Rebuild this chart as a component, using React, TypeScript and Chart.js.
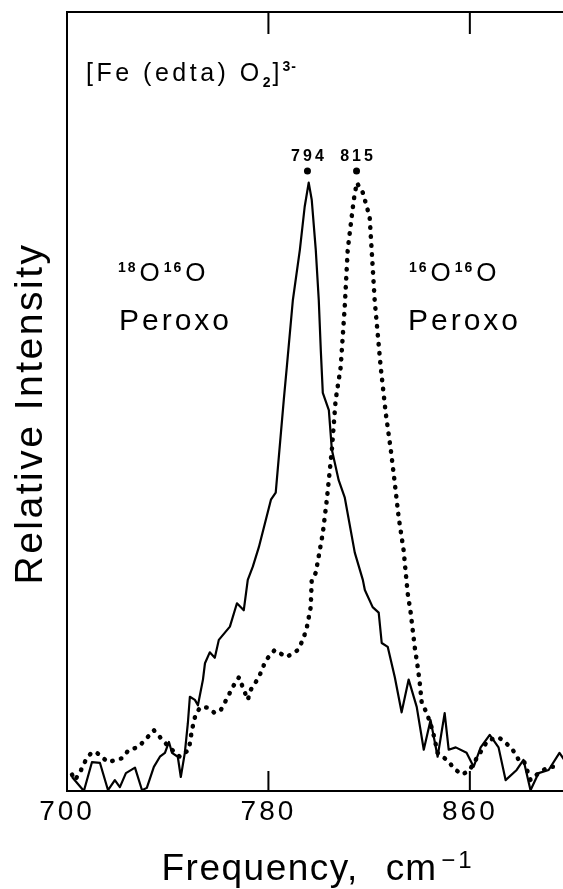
import React, { useEffect, useRef } from 'react';
import { Chart, registerables } from 'chart.js';

Chart.register(...registerables);

// 18O16O peroxo (solid line)
const solidFreq = [702.0, 706.7, 709.9, 713.1, 716.3, 719.0, 721.0, 723.4, 727.0, 729.8, 731.7, 734.5, 736.9, 738.9, 740.5, 741.7, 744.0, 745.2, 746.8, 748.0, 748.8, 750.8, 752.0, 754.0, 754.8, 756.7, 758.7, 760.3, 764.7, 767.5, 770.2, 771.8, 773.8, 776.2, 781.0, 782.9, 786.1, 787.3, 789.7, 792.5, 794.4, 796.0, 797.2, 798.8, 800.0, 800.8, 801.6, 804.0, 805.2, 807.9, 810.3, 814.3, 817.5, 818.3, 821.4, 823.8, 825.0, 827.4, 830.2, 832.9, 835.7, 838.9, 841.7, 844.4, 847.2, 850.0, 851.6, 854.4, 858.7, 861.5, 864.3, 867.9, 871.4, 874.2, 878.6, 881.3, 884.1, 887.3, 891.3, 895.6, 897.5];
const solidInt = [1.8, 0.0, 3.7, 3.6, 0.1, 1.4, 0.5, 2.3, 3.0, 0.1, 0.4, 3.1, 4.4, 4.9, 6.3, 4.9, 4.4, 1.8, 4.9, 8.7, 12.1, 11.7, 11.0, 14.3, 16.4, 17.8, 17.1, 19.4, 21.1, 24.1, 23.2, 27.1, 28.8, 31.3, 37.4, 38.3, 50.2, 54.4, 63.0, 69.5, 75.0, 78.1, 75.9, 69.5, 63.0, 56.6, 51.1, 48.9, 43.8, 39.9, 37.7, 30.6, 27.1, 25.8, 23.6, 22.9, 19.0, 18.5, 14.6, 10.1, 14.3, 10.8, 5.3, 9.1, 4.4, 10.0, 5.3, 5.6, 4.9, 3.1, 5.6, 7.2, 5.6, 1.4, 2.7, 4.0, 0.1, 2.3, 2.7, 4.9, 4.0];

// 16O16O peroxo (dotted line)
const dottedFreq = [702.0, 703.2, 705.6, 707.5, 709.9, 711.9, 716.3, 721.8, 724.6, 728.2, 731.7, 734.5, 738.9, 741.7, 744.8, 748.4, 749.6, 751.2, 753.2, 756.0, 758.7, 761.1, 763.9, 765.9, 768.3, 770.2, 771.8, 773.0, 776.2, 779.0, 782.5, 784.5, 787.3, 791.7, 793.7, 795.2, 796.8, 797.2, 798.8, 801.6, 803.2, 805.2, 806.7, 808.7, 810.3, 811.5, 813.9, 815.1, 817.5, 820.2, 821.4, 822.2, 824.6, 826.6, 828.6, 830.2, 831.7, 833.7, 835.3, 836.5, 838.1, 839.3, 840.1, 840.9, 842.9, 845.2, 847.2, 850.8, 854.4, 857.1, 859.9, 863.1, 867.1, 871.4, 874.2, 877.0, 879.4, 881.3, 884.1, 887.3, 891.3, 895.6];
const dottedInt = [2.1, 1.4, 2.7, 4.0, 5.0, 4.9, 3.7, 4.2, 5.3, 5.6, 6.8, 7.8, 6.2, 5.3, 4.4, 5.3, 7.8, 10.0, 10.8, 10.7, 10.0, 10.4, 12.1, 13.4, 14.6, 13.0, 11.7, 13.0, 14.6, 16.8, 18.1, 17.7, 17.2, 18.1, 19.4, 20.9, 23.6, 27.1, 28.0, 33.1, 37.4, 43.8, 50.2, 54.4, 62.1, 69.5, 75.9, 78.1, 76.8, 73.7, 67.3, 63.0, 54.4, 48.5, 43.8, 39.5, 35.2, 30.9, 25.4, 22.9, 18.5, 15.9, 13.9, 11.3, 10.0, 7.8, 4.9, 4.0, 2.7, 2.1, 2.7, 4.4, 6.5, 6.9, 6.2, 5.3, 4.0, 4.0, 1.4, 2.3, 3.1, 3.1];

const xTicks = [700, 780, 860];
const xTickLabels = ['700', '780', '860'];
const peakFreqs = [795.5, 815.0];
const peakLabels = ['794', '815'];

const FONT = "'Liberation Sans', Arial, Helvetica, sans-serif";

const overlay = {
  id: 'overlay',
  beforeDraw(chart: any) {
    chart.ctx.letterSpacing = '3px';
  },
  afterDraw(chart: any) {
    const { ctx, chartArea: a, scales } = chart;
    const x = scales.x;
    const y = scales.y;
    ctx.save();
    ctx.strokeStyle = '#000';
    ctx.fillStyle = '#000';
    ctx.lineWidth = 2;
    ctx.lineCap = 'butt';
    // top frame
    ctx.beginPath();
    ctx.moveTo(a.left, a.top);
    ctx.lineTo(a.right, a.top);
    ctx.stroke();
    // inward tick marks at bottom and top
    for (const v of xTicks) {
      if (v <= x.min) continue;
      const px = x.getPixelForValue(v);
      ctx.beginPath();
      ctx.moveTo(px, a.bottom);
      ctx.lineTo(px, a.bottom - 20);
      ctx.moveTo(px, a.top);
      ctx.lineTo(px, a.top + 22);
      ctx.stroke();
    }
    // peak markers
    ctx.textAlign = 'center';
    ctx.textBaseline = 'alphabetic';
    ctx.letterSpacing = '3px';
    ctx.font = `bold 16px ${FONT}`;
    peakFreqs.forEach((f, i) => {
      const px = x.getPixelForValue(f);
      const pd = y.getPixelForValue(79.6);
      ctx.beginPath();
      ctx.arc(px, pd, 3.5, 0, Math.PI * 2);
      ctx.fill();
      ctx.fillText(peakLabels[i], px + 1.5, pd - 10);
    });

    // helper for runs of text
    const run = (parts: { t: string; f: string; dy?: number; ls?: number; gap?: number }[], sx: number, by: number) => {
      let cx = sx;
      ctx.textAlign = 'left';
      for (const p of parts) {
        ctx.font = p.f;
        ctx.letterSpacing = `${p.ls ?? 0}px`;
        ctx.fillText(p.t, cx, by + (p.dy ?? 0));
        cx += ctx.measureText(p.t).width + (p.gap ?? 0);
      }
      return cx;
    };

    // title
    run([
      { t: '[Fe (edta) O', f: `25px ${FONT}`, ls: 3.5 },
      { t: '2', f: `bold 14px ${FONT}`, dy: 6, ls: 1, gap: 1 },
      { t: ']', f: `25px ${FONT}`, ls: 3 },
      { t: '3-', f: `bold 14px ${FONT}`, dy: -10, ls: 1 },
    ], a.left + 19, 81);

    // isotope labels
    const iso = (a1: string, a2: string, sx: number) =>
      run([
        { t: a1, f: `bold 14px ${FONT}`, dy: -9, ls: 2, gap: 2 },
        { t: 'O', f: `26px ${FONT}`, gap: 4 },
        { t: a2, f: `bold 14px ${FONT}`, dy: -9, ls: 2, gap: 2 },
        { t: 'O', f: `26px ${FONT}` },
      ], sx, 281);
    iso('18', '16', 118);
    iso('16', '16', 409);
    ctx.font = `30px ${FONT}`;
    ctx.letterSpacing = '3px';
    ctx.textAlign = 'left';
    ctx.fillText('Peroxo', 119, 330);
    ctx.fillText('Peroxo', 408, 330);

    // y axis title
    ctx.save();
    ctx.font = `39px ${FONT}`;
    ctx.letterSpacing = '2.5px';
    ctx.textAlign = 'center';
    ctx.textBaseline = 'alphabetic';
    ctx.translate(42, (a.top + a.bottom) / 2 + 12);
    ctx.rotate(-Math.PI / 2);
    ctx.fillText('Relative Intensity', 0, 0);
    ctx.restore();

    // x axis title
    const partsX = [
      { t: 'Frequency,', f: `37px ${FONT}`, ls: 1.5, gap: 27 },
      { t: 'cm', f: `37px ${FONT}`, ls: 1, gap: 4 },
      { t: '−1', f: `24px ${FONT}`, dy: -12, ls: 3 },
    ];
    let total = 0;
    for (const p of partsX) {
      ctx.font = p.f;
      ctx.letterSpacing = `${p.ls}px`;
      total += ctx.measureText(p.t).width + (p.gap ?? 0);
    }
    run(partsX, (a.left + a.right) / 2 + 3 - total / 2, 880);
    ctx.restore();
    ctx.letterSpacing = '0px';
  },
};

export default function App() {
  const ref = useRef<HTMLCanvasElement>(null);
  useEffect(() => {
    document.body.style.margin = '0';
    const canvas = ref.current;
    if (!canvas) return;
    const chart = new Chart(canvas, {
      type: 'scatter',
      data: {
        datasets: [
          {
            data: solidFreq.map((f, i) => ({ x: f, y: solidInt[i] })),
            showLine: true,
            borderColor: '#000',
            backgroundColor: '#000',
            borderWidth: 2.2,
            pointRadius: 0,
            tension: 0,
            borderJoinStyle: 'round',
          },
          {
            data: dottedFreq.map((f, i) => ({ x: f, y: dottedInt[i] })),
            showLine: true,
            borderColor: '#000',
            backgroundColor: '#000',
            borderWidth: 4.5,
            borderDash: [0.5, 8.5],
            borderCapStyle: 'round',
            pointRadius: 0,
            tension: 0,
          },
        ],
      },
      options: {
        animation: false,
        responsive: false,
        maintainAspectRatio: false,
        events: [],
        layout: { padding: { top: 12, left: 0, right: 0, bottom: 0 } },
        plugins: { legend: { display: false }, tooltip: { enabled: false }, title: { display: false } },
        scales: {
          x: {
            type: 'linear',
            min: 700,
            max: 897,
            afterBuildTicks: (s: any) => {
              s.ticks = xTicks.map((v) => ({ value: v }));
            },
            afterFit: (s: any) => {
              s.height = 98;
            },
            grid: { display: false, drawTicks: false },
            border: { display: true, color: '#000', width: 2 },
            ticks: {
              color: '#000',
              font: { family: FONT, size: 28 },
              padding: 4,
              maxRotation: 0,
              autoSkip: false,
              callback: (v: any) => {
                const i = xTicks.indexOf(Number(v));
                return i >= 0 ? xTickLabels[i] : '';
              },
            },
          },
          y: {
            type: 'linear',
            min: 0,
            max: 100,
            afterFit: (s: any) => {
              s.width = 67;
            },
            grid: { display: false, drawTicks: false },
            border: { display: true, color: '#000', width: 2 },
            ticks: { display: false },
          },
        },
      },
      plugins: [overlay],
    } as any);
    return () => chart.destroy();
  }, []);
  return (
    <div style={{ position: 'fixed', left: 0, top: 0, width: 563, height: 889, background: '#fff' }}>
      <canvas ref={ref} width={563} height={889} style={{ width: 563, height: 889, display: 'block' }} />
    </div>
  );
}
